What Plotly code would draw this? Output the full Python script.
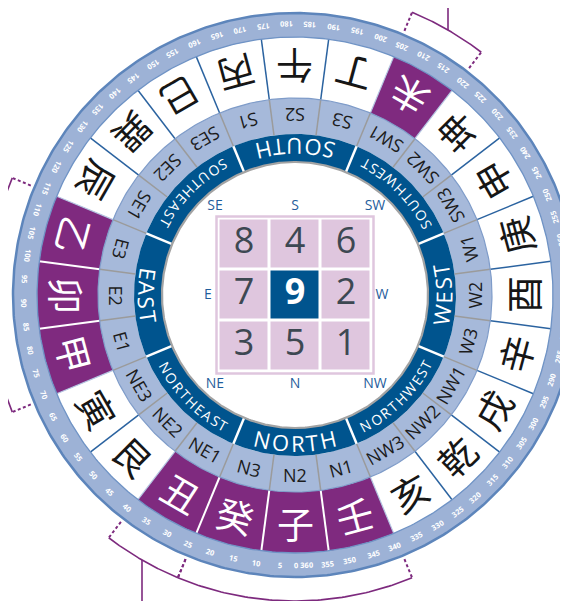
import numpy as np
import plotly.graph_objects as go

# ---------------- data ----------------
mountains = ["子", "癸", "丑", "艮", "寅", "甲", "卯", "乙", "辰", "巽", "巳", "丙",
             "午", "丁", "未", "坤", "申", "庚", "酉", "辛", "戌", "乾", "亥", "壬"]
sub_directions = ["N2", "N3", "NE1", "NE2", "NE3", "E1", "E2", "E3", "SE1", "SE2", "SE3", "S1",
                  "S2", "S3", "SW1", "SW2", "SW3", "W1", "W2", "W3", "NW1", "NW2", "NW3", "N1"]
mountain_angles = list(range(0, 360, 15))
highlighted = ["壬", "子", "癸", "丑", "甲", "卯", "乙", "未"]
directions = ["NORTH", "NORTHEAST", "EAST", "SOUTHEAST", "SOUTH", "SOUTHWEST", "WEST", "NORTHWEST"]
direction_angles = [0, 45, 90, 135, 180, 225, 270, 315]
degree_values = list(range(0, 360, 5))
degree_labels = ["0 360"] + [str(v) for v in range(5, 360, 5)]
grid_numbers = [[8, 4, 6], [7, 9, 2], [3, 5, 1]]
grid_compass = ["SE", "S", "SW", "E", "W", "NE", "N", "NW"]
bracket_spans = [(202.5, 217.5), (67.5, 112.5), (22.5, 37.5), (337.5, 382.5)]

# ---------------- geometry / style ----------------
# the page body adds an 8px margin, so the figure is 8px smaller than the window
W, H = 560, 593
CX, CY = 287, 287
R_IN, R_DIR, R_SUB, R_MTN, R_DEG = 133, 161, 197, 258, 282
PURPLE = "#7f2a7f"
DARK_BLUE = "#00548e"
LIGHT_BAND = "#a6b9da"
DEG_RING = "#9db2d6"
DEG_EDGE = "#5d85bb"
LILAC = "#dfc6de"
BRACKET = "#7d2a7e"
SANS = "Open Sans"
CJK = "Noto Sans CJK SC"

EM = {"A": .633, "E": .556, "H": .738, "N": .748, "O": .781, "R": .634,
      "S": .549, "T": .556, "U": .739, "W": .942}


def pol(r, deg):
    t = np.radians(deg)
    return -r * np.sin(t), -r * np.cos(t)


def ang(a):
    return ((a + 180) % 360) - 180


def sector(r0, r1, a0, a1, n=90):
    t = np.linspace(a0, a1, n)
    xo, yo = pol(r1, t)
    xi, yi = pol(r0, t[::-1])
    x = np.concatenate([xo, xi, xo[:1]])
    y = np.concatenate([yo, yi, yo[:1]])
    return x, y


fig = go.Figure()


def add_fill(x, y, color):
    fig.add_trace(go.Scatter(x=x, y=y, mode="lines", fill="toself", fillcolor=color,
                             line=dict(width=0, color=color), hoverinfo="skip"))


def add_lines(segs, color, width, dash="solid"):
    xs, ys = [], []
    for sx, sy in segs:
        xs += list(sx) + [None]
        ys += list(sy) + [None]
    fig.add_trace(go.Scatter(x=xs, y=ys, mode="lines", hoverinfo="skip",
                             line=dict(color=color, width=width, dash=dash)))


# rings
add_fill(*sector(R_MTN, R_DEG, 0, 360, 400), DEG_RING)
for name, a in zip(mountains, mountain_angles):
    if name in highlighted:
        add_fill(*sector(R_SUB, R_MTN, a - 7.5, a + 7.5), PURPLE)
add_fill(*sector(R_DIR, R_SUB, 0, 360, 400), LIGHT_BAND)
add_fill(*sector(R_IN, R_DIR, 0, 360, 400), DARK_BLUE)

# separators in the mountain ring
groups = {"pp": [], "ww": [], "pw": []}
for k, a in enumerate(mountain_angles):
    b = a + 7.5
    h1 = mountains[k] in highlighted
    h2 = mountains[(k + 1) % 24] in highlighted
    key = "pp" if (h1 and h2) else ("ww" if not (h1 or h2) else "pw")
    p0, p1 = pol(R_SUB, b), pol(R_MTN, b)
    groups[key].append(([p0[0], p1[0]], [p0[1], p1[1]]))
add_lines(groups["pp"], "white", 2)
add_lines(groups["ww"], "#2b63a0", 1.5)
add_lines(groups["pw"], "#b5c6e2", 1.2)

# separators in the sub-direction band
segs = []
for a in mountain_angles:
    p0, p1 = pol(R_DIR, a + 7.5), pol(R_SUB, a + 7.5)
    segs.append(([p0[0], p1[0]], [p0[1], p1[1]]))
add_lines(segs, "#9b9b9b", 1.5)

# separators in the direction band
segs = []
for a in direction_angles:
    p0, p1 = pol(R_IN, a + 22.5), pol(R_DIR, a + 22.5)
    segs.append(([p0[0], p1[0]], [p0[1], p1[1]]))
add_lines(segs, "white", 2.5)

# circles
t = np.linspace(0, 360, 500)
add_lines([pol(R_DEG, t)], DEG_EDGE, 2.5)
add_lines([pol(R_MTN, t)], "#6f93c5", 1.3)
add_lines([pol(R_SUB, t)], "#7f9cc9", 1.2)
add_lines([pol(R_IN, t)], "#a3a3a3", 2.2)

# brackets
R_BR, R_BR0 = 306, 286
stems = ["up", "left", "down", "down"]
solid, dashed = [], []
for (a0, a1), st in zip(bracket_spans, stems):
    tt = np.linspace(a0, a1, 80)
    solid.append(pol(R_BR, tt))
    for a in (a0, a1):
        p0, p1 = pol(R_BR0, a), pol(R_BR, a)
        dashed.append(([p0[0], p1[0]], [p0[1], p1[1]]))
    mx, my = pol(R_BR, (a0 + a1) / 2)
    if st == "up":
        solid.append(([mx, mx], [my, my + 400]))
    elif st == "down":
        solid.append(([mx, mx], [my, my - 400]))
    else:
        solid.append(([mx, mx - 400], [my, my]))
add_lines(solid, BRACKET, 1.6)
add_lines(dashed, BRACKET, 2, dash="3px,2.5px")

# centre grid
fig.add_trace(go.Heatmap(z=[[1 if v == 9 else 0 for v in row] for row in grid_numbers],
                         x=[-51, 0, 51], y=[51, 0, -51], zmin=0, zmax=1,
                         colorscale=[[0, LILAC], [1, DARK_BLUE]], showscale=False,
                         xgap=3, ygap=3, hoverinfo="skip"))
gx, gy, gt, gc = [], [], [], []
for i, row in enumerate(grid_numbers):
    for j, v in enumerate(row):
        gx.append((j - 1) * 51)
        gy.append((1 - i) * 51)
        gt.append("<b>%d</b>" % v if v == 9 else str(v))
        gc.append("white" if v == 9 else "#3d4852")
fig.add_trace(go.Scatter(x=gx, y=gy, mode="text", text=gt, hoverinfo="skip",
                         textfont=dict(family=SANS, size=36, color=gc)))

cx_, cy_, ct_ = [], [], []
for lab in grid_compass:
    sx = -1 if "E" in lab else (1 if "W" in lab else 0)
    sy = 1 if "S" in lab else (-1 if "N" in lab else 0)
    cx_.append(sx * (80 if sy else 87))
    cy_.append(sy * 89)
    ct_.append(lab)
fig.add_trace(go.Scatter(x=cx_, y=cy_, mode="text", text=ct_, hoverinfo="skip",
                         textfont=dict(family=SANS, size=14, color="#1f5d9c")))

fig.add_shape(type="rect", xref="x", yref="y", x0=-78.5, x1=78.5, y0=-78.5, y1=78.5,
              line=dict(color=LILAC, width=2.5))

# ---------------- texts ----------------
ann = []


def label(r, a, text, size, color, family=SANS):
    x, y = pol(r, a)
    ann.append(dict(x=x, y=y, xref="x", yref="y", text=text, showarrow=False,
                    textangle=ang(a), font=dict(family=family, size=size, color=color)))


def arc_text(text, center, r, size, track, color):
    widths = [EM.get(ch, 0.6) * size for ch in text]
    total = sum(widths) + track * (len(text) - 1)
    pos = -total / 2
    for ch, w in zip(text, widths):
        c = pos + w / 2
        a = center - np.degrees(c / r)
        label(r, a, ch, size, color)
        pos += w + track


DEG_SHIFT = -1.8
for v, t_ in zip(degree_values, degree_labels):
    label(270.5, v + DEG_SHIFT, "<b>%s</b>" % t_, 7.5, "white")

for name, sub, a in zip(mountains, sub_directions, mountain_angles):
    col = "white" if name in highlighted else "#161616"
    label(228, a, name, 37, col, CJK)
    label(179.5, a, sub, 18, "#1c1c1c")

for d, a in zip(directions, direction_angles):
    if len(d) <= 5:
        arc_text(d, a, 148, 22, 1.5, "white")
    else:
        arc_text(d, a, 148.5, 14, 1.4, "white")

fig.update_layout(
    width=W, height=H, margin=dict(l=0, r=0, t=0, b=0),
    paper_bgcolor="white", plot_bgcolor="white", showlegend=False,
    xaxis=dict(range=[-CX, W - CX], visible=False, fixedrange=True),
    yaxis=dict(range=[-(H - CY), CY], visible=False, fixedrange=True),
    annotations=ann,
)

fig.write_html("out.html")
